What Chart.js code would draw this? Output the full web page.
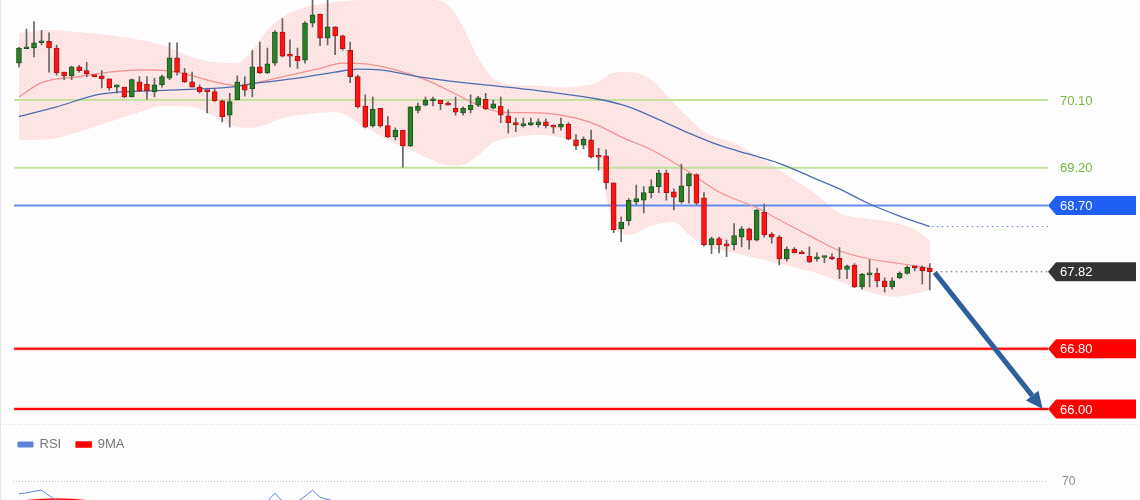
<!DOCTYPE html>
<html>
<head>
<meta charset="utf-8">
<title>Gráfico</title>
<script src="https://cdn.jsdelivr.net/npm/chart.js@4.4.1/dist/chart.umd.min.js"></script>
<style>
  html, body { margin: 0; padding: 0; background: #fdfdfd; }
  #box { position: relative; width: 1140px; height: 500px; overflow: hidden; }
  #priceChart { position: absolute; left: 0; top: 0; }
  #rsiChart { position: absolute; left: 0; top: 423px; }
  #edge { position: absolute; left: 0; top: 0; width: 1px; height: 500px; background: #e6e6e6; }
</style>
</head>
<body>
<div id="box">
  <canvas id="priceChart" width="1140" height="426"></canvas>
  <canvas id="rsiChart" width="1140" height="77"></canvas>
  <div id="edge"></div>
</div>
<script>
// Velas: apertura, máximo, mínimo, cierre
const opens = [70.59,70.78,70.79,70.86,70.88,70.79,70.47,70.42,70.54,70.49,
  70.43,70.42,70.38,70.27,70.27,70.14,70.34,70.31,70.21,70.30,
  70.39,70.66,70.46,70.34,70.27,70.22,70.21,70.09,69.90,70.10,
  70.30,70.25,70.54,70.46,70.59,71.00,70.71,70.68,70.63,71.12,
  71.24,70.92,71.07,70.95,70.76,70.41,70.02,69.76,69.99,69.76,
  69.61,69.70,69.49,69.96,70.03,70.09,70.10,70.06,69.99,69.93,
  69.97,70.03,70.11,69.99,70.02,69.89,69.80,69.76,69.77,69.77,
  69.81,69.76,69.74,69.78,69.57,69.50,69.57,69.36,69.36,69.00,
  68.39,68.50,68.75,68.77,68.87,68.95,69.13,68.88,68.75,68.96,
  69.11,68.80,68.18,68.26,68.19,68.18,68.28,68.39,68.24,68.61,
  68.32,68.28,67.99,68.12,68.08,68.03,67.99,68.01,68.02,68.00,
  67.85,67.91,67.62,67.78,67.80,67.70,67.62,67.74,67.80,67.90,
  67.88,67.87];
const highs = [70.80,71.04,71.14,71.02,70.99,70.83,70.47,70.55,70.56,70.60,
  70.43,70.49,70.38,70.30,70.27,70.38,70.41,70.41,70.39,70.43,
  70.86,70.86,70.52,70.47,70.30,70.22,70.25,70.10,70.19,70.42,
  70.41,70.76,70.87,70.79,71.02,71.18,70.90,70.79,71.14,71.43,
  71.24,71.43,71.07,70.96,70.87,70.43,70.17,70.14,69.99,69.88,
  69.73,69.70,70.01,70.06,70.14,70.14,70.10,70.08,70.14,70.01,
  70.17,70.15,70.19,70.10,70.14,69.97,69.86,69.86,69.86,69.85,
  69.85,69.77,69.86,69.80,69.64,69.61,69.70,69.46,69.44,69.00,
  68.55,68.79,68.97,68.95,69.04,69.17,69.17,68.92,69.25,69.13,
  69.12,68.87,68.28,68.28,68.24,68.46,68.42,68.40,68.65,68.72,
  68.34,68.30,68.15,68.14,68.10,68.15,68.07,68.03,68.06,68.14,
  67.91,67.93,67.80,67.98,67.87,67.74,67.74,67.82,67.90,67.90,
  67.90,67.93];
const lows = [70.54,70.78,70.67,70.83,70.47,70.43,70.37,70.37,70.47,70.41,
  70.41,70.26,70.23,70.19,70.13,70.14,70.21,70.11,70.14,70.27,
  70.37,70.43,70.33,70.27,70.19,69.93,70.08,69.81,69.74,70.10,
  70.15,70.14,70.45,70.45,70.56,70.67,70.54,70.52,70.59,71.07,
  70.82,70.83,70.70,70.76,70.33,69.99,69.73,69.74,69.74,69.60,
  69.57,69.21,69.48,69.93,70.02,70.02,69.97,70.03,69.90,69.90,
  69.93,70.01,69.97,69.98,69.80,69.66,69.68,69.74,69.76,69.74,
  69.73,69.66,69.70,69.57,69.44,69.45,69.33,69.17,68.92,68.34,
  68.22,68.44,68.71,68.60,68.80,68.87,68.77,68.64,68.73,68.73,
  68.71,68.16,68.06,68.07,68.02,68.11,68.15,68.12,68.23,68.28,
  68.20,67.91,67.96,68.07,68.06,67.94,67.96,67.94,67.98,67.73,
  67.73,67.61,67.59,67.62,67.62,67.55,67.59,67.73,67.79,67.83,
  67.66,67.58];
const closes = [70.79,70.80,70.86,70.88,70.79,70.46,70.42,70.54,70.49,70.45,
  70.41,70.38,70.26,70.30,70.14,70.37,70.22,70.22,70.30,70.41,
  70.66,70.47,70.34,70.27,70.21,70.21,70.09,69.88,70.08,70.34,
  70.23,70.54,70.46,70.58,71.00,70.68,70.68,70.62,71.12,71.23,
  70.92,71.07,70.95,70.78,70.41,70.01,69.74,69.98,69.76,69.61,
  69.70,69.49,70.01,70.02,70.10,70.11,70.05,70.03,69.94,69.99,
  70.03,70.13,69.98,70.05,69.90,69.80,69.77,69.78,69.80,69.81,
  69.76,69.74,69.78,69.58,69.49,69.58,69.34,69.34,69.00,68.38,
  68.48,68.77,68.79,68.87,68.95,69.13,68.87,68.81,68.96,69.12,
  68.73,68.18,68.26,68.18,68.16,68.30,68.39,68.24,68.64,68.31,
  68.28,67.99,68.12,68.07,68.06,67.95,68.02,68.02,67.99,67.85,
  67.90,67.62,67.79,67.80,67.70,67.62,67.70,67.80,67.88,67.87,
  67.83,67.82];

// Bandas de Bollinger (vela, valor)
const bandIdx = [0,4,8,12,16,19,23,26,29,31,33,35,38,42,46,49,52,55,57,59,61,63,66,69,72,75,77,79,81,84,87,89,91,95,99,103,106,109,113,116,119,121];
const bandUpper = [70.99,71.03,71.00,70.96,70.90,70.83,70.67,70.60,70.59,70.76,
  71.03,71.20,71.33,71.40,71.43,71.44,71.43,71.43,71.36,71.07,
  70.66,70.39,70.30,70.29,70.27,70.29,70.34,70.46,70.47,70.37,
  70.06,69.86,69.68,69.53,69.30,69.04,68.84,68.60,68.52,68.48,
  68.38,68.24];
const bandLower = [69.57,69.58,69.68,69.81,69.94,70.02,70.01,69.88,69.74,69.73,
  69.78,69.86,69.91,69.94,69.74,69.57,69.44,69.30,69.23,69.24,
  69.37,69.54,69.61,69.64,69.60,69.50,69.24,68.44,68.31,68.43,
  68.48,68.31,68.18,68.07,67.98,67.88,67.80,67.69,67.55,67.49,
  67.53,67.58];

// Medias móviles
const fastMaIdx = [0,3,8,12,17,21,26,29,32,36,40,43,46,50,54,58,61,64,69,74,77,80,84,88,93,98,101,105,109,113,117,121];
const fastMa = [70.14,70.33,70.41,70.47,70.50,70.47,70.34,70.29,70.34,70.43,
  70.52,70.59,70.58,70.50,70.37,70.18,70.03,69.94,69.93,69.86,
  69.76,69.61,69.44,69.21,68.88,68.67,68.51,68.30,68.10,67.99,
  67.93,67.87];
const slowMaIdx = [0,5,11,20,28,32,37,42,45,48,53,59,63,70,77,81,85,89,93,97,101,105,109,113,117,121];
const slowMa = [69.88,70.01,70.18,70.23,70.27,70.33,70.39,70.47,70.51,70.50,
  70.41,70.33,70.29,70.21,70.11,70.01,69.84,69.66,69.50,69.38,
  69.26,69.09,68.92,68.72,68.56,68.42];

// Niveles
const resistances = [70.10, 69.20];
const pivot = 68.70;
const supports = [66.80, 66.00];

// RSI y su media de 9
const rsiIdx = [0,1,2,3,4,5,8,14,20,27,33,34,35,37,38,39,40,42,46,52,60,70,79,85,91,98,105,111,116,121];
const rsi = [49.5,51,53.5,55,47,39,34,30,36,28,38,50.5,38,37,46,55,44,38,26,32,35,30,20,30,24,32,26,25,30,33];
const rsiMaIdx = [0,3,5,7,10,20,30,40,50,60,70,80,90,100,110,121];
const rsiMa = [38,40.6,41.7,40.6,38,34,33,37,33,30,31,27,28,27,27,28];
const rsiLevels = [70];

const candles = opens.map((_, i) => i);
const lastIdx = candles.length - 1;
const lastClose = closes[lastIdx];
const arrowTargetIdx = 136;

function toPoints(xs, ys) {
  return xs.map((x, i) => ({ x: x, y: ys[i] }));
}

const FONT = '"Liberation Sans", Arial, sans-serif';
const upFill = '#2a802a', upLine = '#1a551a';
const downFill = '#ff1414', downLine = '#b01010';
const bodyColors = opens.map((o, i) => closes[i] >= o ? upFill : downFill);
const bodyBorders = opens.map((o, i) => closes[i] >= o ? upLine : downLine);

function bandPattern() {
  const c = document.createElement('canvas');
  c.width = 4; c.height = 4;
  const g = c.getContext('2d');
  g.fillStyle = 'rgba(252,200,200,0.42)';
  g.fillRect(0, 0, 4, 4);
  g.fillStyle = 'rgba(236,165,165,0.30)';
  g.fillRect(0, 0, 1, 1);
  g.fillRect(2, 2, 1, 1);
  return g.createPattern(c, 'repeat');
}

function hLine(ctx, a, yy, color, width) {
  ctx.strokeStyle = color;
  ctx.lineWidth = width;
  ctx.beginPath();
  ctx.moveTo(a.left - 1, yy);
  ctx.lineTo(a.right, yy);
  ctx.stroke();
}

function tag(chart, yy, color, text) {
  const ctx = chart.ctx;
  const x0 = chart.chartArea.right;
  const x1 = chart.width - 4;
  ctx.fillStyle = color;
  ctx.beginPath();
  ctx.moveTo(x0, yy);
  ctx.lineTo(x0 + 8, yy - 9.5);
  ctx.lineTo(x1, yy - 9.5);
  ctx.lineTo(x1, yy + 9.5);
  ctx.lineTo(x0 + 8, yy + 9.5);
  ctx.closePath();
  ctx.fill();
  ctx.fillStyle = '#ffffff';
  ctx.font = '13px ' + FONT;
  ctx.textBaseline = 'middle';
  ctx.textAlign = 'left';
  ctx.fillText(text, x0 + 12, yy + 1);
}

function arrow(ctx, x0, y0, x1, y1, color) {
  const ang = Math.atan2(y1 - y0, x1 - x0);
  const head = 17, half = 8;
  const bx = x1 - head * Math.cos(ang);
  const by = y1 - head * Math.sin(ang);
  ctx.strokeStyle = color;
  ctx.lineWidth = 5;
  ctx.beginPath();
  ctx.moveTo(x0, y0);
  ctx.lineTo(bx, by);
  ctx.stroke();
  ctx.fillStyle = color;
  ctx.beginPath();
  ctx.moveTo(x1, y1);
  ctx.lineTo(bx + half * Math.sin(ang), by - half * Math.cos(ang));
  ctx.lineTo(bx - half * Math.sin(ang), by + half * Math.cos(ang));
  ctx.closePath();
  ctx.fill();
}

// Líneas de nivel, etiquetas y flecha
const levelsPlugin = {
  id: 'levels',
  beforeDatasetsDraw(chart) {
    const { ctx, chartArea: a, scales: { y } } = chart;
    ctx.save();
    ctx.strokeStyle = '#dadada';
    ctx.lineWidth = 1;
    ctx.setLineDash([1, 2]);
    ctx.beginPath();
    ctx.moveTo(0, a.bottom + 0.5);
    ctx.lineTo(chart.width, a.bottom + 0.5);
    ctx.stroke();
    ctx.setLineDash([]);
    resistances.forEach(v => hLine(ctx, a, y.getPixelForValue(v), '#c3e19f', 2));
    hLine(ctx, a, y.getPixelForValue(pivot), '#5e8ff2', 2);
    supports.forEach(v => {
      const yy = y.getPixelForValue(v);
      hLine(ctx, a, yy, 'rgba(255,0,0,0.22)', 4);
      hLine(ctx, a, yy, '#ff0000', 2);
    });
    ctx.restore();
  },
  afterDatasetsDraw(chart) {
    const { ctx, chartArea: a, scales: { x, y } } = chart;
    ctx.save();
    // prolongaciones punteadas
    const lastX = x.getPixelForValue(lastIdx);
    ctx.lineWidth = 1;
    ctx.setLineDash([1.5, 3.5]);
    ctx.strokeStyle = '#5b7fd6';
    const ySlow = y.getPixelForValue(slowMa[slowMa.length - 1]);
    ctx.beginPath();
    ctx.moveTo(lastX + 2, ySlow);
    ctx.lineTo(a.right, ySlow);
    ctx.stroke();
    ctx.strokeStyle = '#666';
    const yLast = y.getPixelForValue(lastClose);
    ctx.beginPath();
    ctx.moveTo(lastX + 6, yLast);
    ctx.lineTo(a.right, yLast);
    ctx.stroke();
    ctx.setLineDash([]);

    arrow(ctx, x.getPixelForValue(lastIdx + 0.65), y.getPixelForValue(lastClose - 0.01),
      x.getPixelForValue(arrowTargetIdx), y.getPixelForValue(supports[1]), '#2f5f9b');

    // etiquetas
    ctx.font = '13px ' + FONT;
    ctx.textBaseline = 'middle';
    ctx.fillStyle = '#76b83c';
    resistances.forEach(v => ctx.fillText(v.toFixed(2), a.right + 12, y.getPixelForValue(v) + 1));
    tag(chart, y.getPixelForValue(pivot), '#1f5ff2', pivot.toFixed(2));
    tag(chart, yLast, '#333333', lastClose.toFixed(2));
    supports.forEach(v => tag(chart, y.getPixelForValue(v), '#ff0000', v.toFixed(2)));
    ctx.restore();
  }
};

new Chart(document.getElementById('priceChart'), {
  type: 'bar',
  data: {
    labels: candles,
    datasets: [
      { type: 'line', label: 'Bollinger sup', data: toPoints(bandIdx, bandUpper), borderWidth: 0, pointRadius: 0,
        fill: '+1', backgroundColor: bandPattern(), cubicInterpolationMode: 'monotone', order: 6 },
      { type: 'line', label: 'Bollinger inf', data: toPoints(bandIdx, bandLower), borderWidth: 0, pointRadius: 0,
        fill: false, cubicInterpolationMode: 'monotone', order: 5 },
      { type: 'line', label: 'MA rápida', data: toPoints(fastMaIdx, fastMa), borderColor: '#f39090', borderWidth: 1.2,
        pointRadius: 0, fill: false, cubicInterpolationMode: 'monotone', order: 4 },
      { type: 'line', label: 'MA lenta', data: toPoints(slowMaIdx, slowMa), borderColor: '#4c6db0', borderWidth: 1.3,
        pointRadius: 0, fill: false, cubicInterpolationMode: 'monotone', order: 3 },
      { label: 'Mechas', data: lows.map((l, i) => [l, highs[i]]), backgroundColor: '#666666',
        barThickness: 1, grouped: false, order: 2 },
      { label: 'Cuerpos', data: opens.map((o, i) => [o, closes[i]]), backgroundColor: bodyColors, borderColor: bodyBorders,
        borderWidth: 1, borderSkipped: false, barThickness: 5, minBarLength: 2, grouped: false, order: 1 }
    ]
  },
  options: {
    responsive: false,
    animation: false,
    events: [],
    layout: { padding: { left: 15.2, right: 92, top: 0, bottom: 2 } },
    scales: {
      x: { type: 'linear', offset: false, min: -0.5, max: 136.7, display: false },
      y: { min: 65.8, max: 71.427, display: false }
    },
    plugins: {
      legend: { display: false },
      tooltip: { enabled: false },
      filler: { drawTime: 'beforeDatasetsDraw' }
    }
  },
  plugins: [levelsPlugin]
});

// Nivel 70 del RSI
const rsiLevelPlugin = {
  id: 'rsiLevel',
  beforeDatasetsDraw(chart) {
    const { ctx, chartArea: a, scales: { y } } = chart;
    ctx.save();
    rsiLevels.forEach(v => {
      const yy = Math.round(y.getPixelForValue(v)) + 0.5;
      ctx.strokeStyle = '#c4c4c4';
      ctx.lineWidth = 1;
      ctx.setLineDash([1, 2]);
      ctx.beginPath();
      ctx.moveTo(13, yy);
      ctx.lineTo(a.right - 2, yy);
      ctx.stroke();
      ctx.setLineDash([]);
      ctx.fillStyle = '#8a8a8a';
      ctx.font = '12px ' + FONT;
      ctx.textBaseline = 'middle';
      ctx.fillText(String(v), a.right + 14, yy);
    });
    ctx.restore();
  }
};

new Chart(document.getElementById('rsiChart'), {
  type: 'line',
  data: {
    datasets: [
      { label: 'RSI', data: toPoints(rsiIdx, rsi), borderColor: '#5a83d8', backgroundColor: '#5a83d8',
        borderWidth: 1, pointRadius: 0, tension: 0 },
      { label: '9MA', data: toPoints(rsiMaIdx, rsiMa), borderColor: '#ff0000', backgroundColor: '#ff0000',
        borderWidth: 1.5, pointRadius: 0, tension: 0.3 }
    ]
  },
  options: {
    responsive: false,
    animation: false,
    events: [],
    layout: { padding: { left: 3, right: 92, top: 0, bottom: 0 } },
    scales: {
      x: { type: 'linear', offset: false, min: -2.12, max: 136.7, display: false },
      y: { min: 40, max: 100, display: false }
    },
    plugins: {
      legend: {
        display: true,
        position: 'top',
        align: 'start',
        labels: { boxWidth: 15, boxHeight: 5, padding: 15, color: '#777777', font: { size: 13, family: FONT } }
      },
      tooltip: { enabled: false }
    }
  },
  plugins: [rsiLevelPlugin]
});
</script>
</body>
</html>
